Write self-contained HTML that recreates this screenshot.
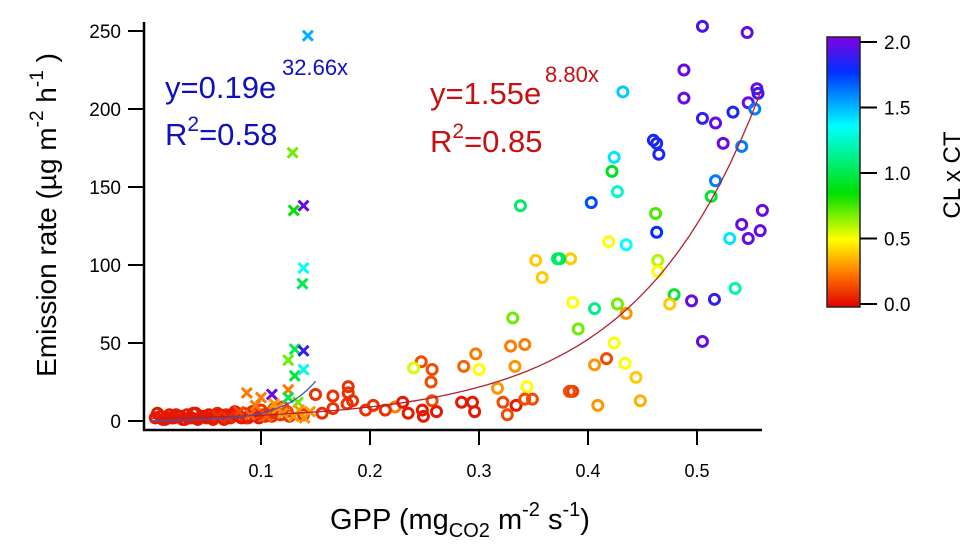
<!DOCTYPE html>
<html><head><meta charset="utf-8"><style>
html,body{margin:0;padding:0;background:#fff;}
svg{display:block;font-family:"Liberation Sans",Arial,sans-serif;}
</style></head><body>
<svg id="chart" width="975" height="554" viewBox="0 0 975 554">
<defs>
<linearGradient id="cbar" x1="0" y1="1" x2="0" y2="0">
<stop offset="0" stop-color="#e00000"/><stop offset="0.125" stop-color="#ff7a00"/>
<stop offset="0.25" stop-color="#ffff00"/><stop offset="0.42" stop-color="#00e000"/>
<stop offset="0.67" stop-color="#00ffff"/><stop offset="0.87" stop-color="#0030ff"/>
<stop offset="1" stop-color="#8000e0"/>
</linearGradient>
</defs>
<g id="marks"></g>
<g id="axes"></g>
<text x="165" y="98" font-size="31" fill="#1010c0">y=0.19e</text>
<text x="282" y="75" font-size="22" fill="#1010c0">32.66x</text>
<text x="165" y="145" font-size="31" fill="#1010c0">R<tspan font-size="21" dy="-14">2</tspan><tspan dy="14">=0.58</tspan></text>
<text x="430" y="104" font-size="31" fill="#c81010">y=1.55e</text>
<text x="545" y="82" font-size="22" fill="#c81010">8.80x</text>
<text x="430" y="152" font-size="31" fill="#c81010">R<tspan font-size="21" dy="-14">2</tspan><tspan dy="14">=0.85</tspan></text>
<text transform="translate(56,215) rotate(-90)" text-anchor="middle" font-size="28">Emission rate (µg m<tspan font-size="19" dy="-13">-2</tspan><tspan dy="13"> h</tspan><tspan font-size="19" dy="-13">-1</tspan><tspan dy="13"> )</tspan></text>
<text x="460" y="529" text-anchor="middle" font-size="29">GPP (mg<tspan font-size="20" dy="8">CO2</tspan><tspan dy="-8"> m</tspan><tspan font-size="20" dy="-13">-2</tspan><tspan dy="13"> s</tspan><tspan font-size="20" dy="-13">-1</tspan><tspan dy="13">)</tspan></text>
<rect x="827" y="37" width="33" height="270" fill="url(#cbar)" stroke="#222" stroke-width="1.5"/>
<g id="cbticks"></g>
<text transform="translate(960,175) rotate(-90)" text-anchor="middle" font-size="24">CL x CT</text>
</svg>
<script>
const circleX=[0.505,0.546,0.488,0.432,0.488,0.555,0.556,0.547,0.553,0.533,0.505,0.517,0.460,0.463,0.465,0.524,0.541,0.424,0.422,0.427,0.403,0.517,0.513,0.560,0.462,0.463,0.541,0.558,0.547,0.530,0.419,0.435,0.384,0.374,0.464,0.464,0.386,0.406,0.427,0.435,0.479,0.475,0.495,0.516,0.535,0.391,0.424,0.417,0.406,0.434,0.444,0.386,0.409,0.448,0.505,0.338,0.352,0.372,0.358,0.331,0.329,0.342,0.247,0.257,0.240,0.256,0.297,0.286,0.300,0.333,0.317,0.344,0.223,0.230,0.235,0.248,0.249,0.257,0.261,0.284,0.294,0.296,0.322,0.326,0.334,0.342,0.349,0.383,0.150,0.166,0.180,0.180,0.179,0.184,0.196,0.166,0.156,0.139,0.203,0.214,
0.003,0.008,0.012,0.016,0.020,0.024,0.028,0.032,0.036,0.040,0.044,0.048,0.052,0.056,0.060,0.064,0.068,0.072,0.076,0.080,0.084,0.088,0.092,0.096,0.100,0.104,0.108,0.112,0.118,0.124,0.005,0.014,0.022,0.030,0.038,0.046,0.054,0.062,0.070,0.078,0.086,0.094,0.102,0.110,0.120,0.010,0.018,0.026,0.034,0.042,0.050,0.058,0.066,0.074,0.082,0.090,0.098,0.106,0.114,0.126];
const circleY=[253,249,225,211,207,213,210,204,200,198,194,191,180,178,171,178,176,169,160,147,140,154,144,135,133,121,126,122,117,117,115,113,104,104,103,96,76,72,75,69,81,75,77,78,85,59,50,40,36,37,28,19,10,13,51,138,103,104,92,66,48,49,38,33,34,25,43,35,33,35,21,22,9,12,5,7,3,13,6,12,12,6,12,4,10,14,14,19,17,16,22,18,11,13,7,8,5,4,10,7,
2,3,1,4,2,3,1,4,2,5,2,3,4,1,5,3,4,2,6,3,5,2,6,4,7,3,5,8,4,6,5,2,4,1,5,3,2,4,3,5,2,6,4,3,9,1,2,3,2,1,2,3,1,4,2,3,2,4,5,3];
const circleC=[1.9,1.95,1.95,1.45,1.95,1.95,1.85,1.95,1.6,1.8,1.85,1.95,1.8,1.8,1.8,1.95,1.6,1.4,0.9,1.25,1.7,1.6,0.95,1.95,0.75,1.75,1.95,1.95,1.95,1.4,0.5,1.35,0.4,1.0,0.6,0.5,0.5,1.1,0.7,0.3,0.95,0.4,1.95,1.85,1.2,0.7,0.5,0.15,0.3,0.5,0.4,0.12,0.3,0.35,1.95,1.05,0.4,1.05,0.4,0.7,0.25,0.25,0.15,0.15,0.55,0.15,0.25,0.2,0.5,0.3,0.3,0.5,0.25,0.05,0.05,0.05,0.05,0.15,0.05,0.05,0.05,0.05,0.15,0.15,0.05,0.15,0.15,0.15,0.1,0.1,0.1,0.1,0.1,0.1,0.1,0.1,0.1,0.1,0.1,0.1,
0.05,0.05,0.05,0.05,0.05,0.05,0.05,0.05,0.05,0.05,0.05,0.05,0.05,0.05,0.08,0.05,0.08,0.05,0.08,0.05,0.08,0.05,0.1,0.05,0.1,0.1,0.1,0.15,0.1,0.15,0.05,0.05,0.05,0.05,0.05,0.05,0.05,0.05,0.05,0.05,0.1,0.05,0.1,0.1,0.15,0.05,0.05,0.05,0.05,0.05,0.05,0.05,0.05,0.05,0.05,0.05,0.05,0.1,0.1,0.1];
const crossX=[0.143,0.129,0.130,0.139,0.139,0.138,0.131,0.139,0.125,0.131,0.139,0.087,0.100,0.110,0.125,0.125,0.134,0.095,0.115,0.120,0.130,0.140,0.145,0.105,0.080,0.060,0.070,0.090,0.112,0.135];
const crossY=[247,172,135,138,98,88,46,45,39,29,33,18,15,17,20,15,12,10,8,5,3,2,6,3,6,3,2,4,11,7];
const crossC=[1.5,0.7,0.85,1.95,1.35,1.0,1.0,1.85,0.7,0.95,1.3,0.25,0.25,1.95,0.25,1.0,0.7,0.25,0.3,0.3,0.3,0.3,0.3,0.2,0.15,0.1,0.1,0.2,0.3,0.3];
const xTicks=[0.1,0.2,0.3,0.4,0.5];
const yTicks=[0,50,100,150,200,250];
const cbTicks=[0.0,0.5,1.0,1.5,2.0];
const fitBlue=[0.19,32.66,0.0,0.15];
const fitRed=[1.55,8.80,0.0,0.558];

const NS="http://www.w3.org/2000/svg";
const sx=v=>152+v*1090;
const sy=v=>421-v*1.56;
const cy=v=>304-v*131;
const stops=[[0,[224,0,0]],[0.25,[255,122,0]],[0.5,[255,255,0]],[0.85,[0,224,0]],[1.35,[0,255,255]],[1.75,[0,48,255]],[2,[128,0,224]]];
function col(v){for(let i=1;i<stops.length;i++){if(v<=stops[i][0]){const a=stops[i-1],b=stops[i];const t=(v-a[0])/(b[0]-a[0]);return 'rgb('+a[1].map((c,k)=>Math.round(c+(b[1][k]-c)*t)).join(',')+')';}}return 'rgb(128,0,224)';}
function mk(tag,attrs,parent){const e=document.createElementNS(NS,tag);for(const k in attrs)e.setAttribute(k,attrs[k]);parent.appendChild(e);return e;}
const marks=document.getElementById('marks');
circleX.forEach((x,i)=>{const c=mk('circle',{cx:sx(x),cy:sy(circleY[i]),r:5,fill:'none',stroke:col(circleC[i]),'stroke-width':3},marks);

});
crossX.forEach((x,i)=>{const px=sx(x),py=sy(crossY[i]),s=5;const p=mk('path',{d:`M${px-s},${py-s}L${px+s},${py+s}M${px-s},${py+s}L${px+s},${py-s}`,stroke:col(crossC[i]),'stroke-width':3,fill:'none'},marks);

});
function fit(f,color,name){let d='';for(let k=0;k<=60;k++){const x=f[2]+(f[3]-f[2])*k/60;const y=f[0]*Math.exp(f[1]*x);d+=(k?'L':'M')+sx(x).toFixed(1)+','+sy(y).toFixed(1);}
const p=mk('path',{d:d,stroke:color,'stroke-width':1.3,fill:'none'},marks);

}
fit(fitRed,'#b02030','red-fit-line');
fit(fitBlue,'#5050b0','blue-fit-line');
const axes=document.getElementById('axes');
const ya=mk('path',{d:'M144,22L144,430L762,430',stroke:'#000','stroke-width':2.5,fill:'none'},axes);


xTicks.forEach(v=>{mk('line',{x1:sx(v),x2:sx(v),y1:430,y2:445,stroke:'#000','stroke-width':2},axes);
const t=mk('text',{x:sx(v),y:477,'text-anchor':'middle','font-size':18},axes);t.textContent=v.toFixed(1);

});
yTicks.forEach(v=>{mk('line',{x1:128,x2:144,y1:sy(v),y2:sy(v),stroke:'#000','stroke-width':2},axes);
const t=mk('text',{x:121,y:sy(v)+7,'text-anchor':'end','font-size':19},axes);t.textContent=v;

});
const cbt=document.getElementById('cbticks');
cbTicks.forEach(v=>{mk('line',{x1:860,x2:877,y1:cy(v),y2:cy(v),stroke:'#000','stroke-width':2},cbt);
const t=mk('text',{x:884,y:cy(v)+7,'font-size':19},cbt);t.textContent=v.toFixed(1);

});
</script>
</body></html>
